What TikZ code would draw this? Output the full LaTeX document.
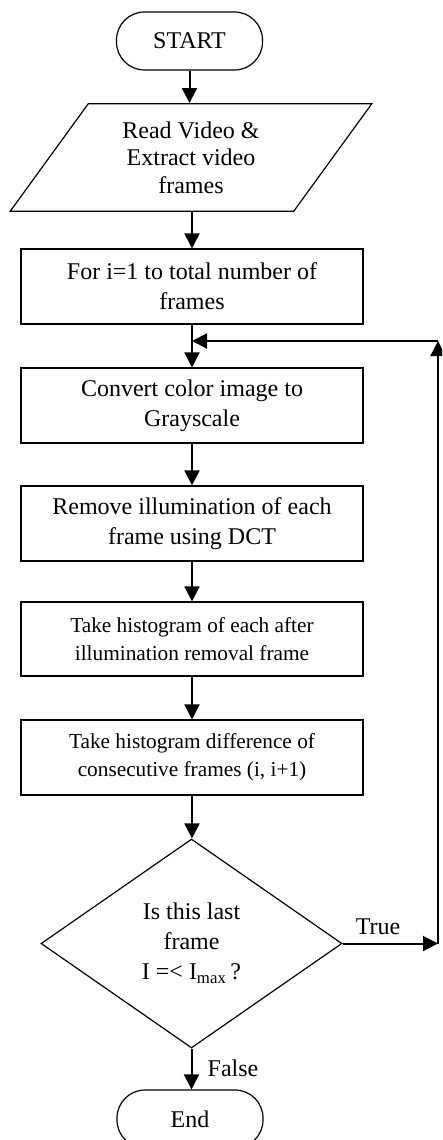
\documentclass[tikz,border=0pt]{standalone}
\usepackage{fontspec}
\setmainfont{Liberation Serif}
\usetikzlibrary{arrows.meta,shapes.geometric}
\begin{document}
\begin{tikzpicture}[x=1pt,y=-1pt,
  box/.style={draw,line width=1.2pt,rectangle,minimum width=342pt,minimum height=75pt,inner sep=0pt,align=center,font=\fontsize{24}{30}\selectfont},
  sbox/.style={box,font=\fontsize{21.3}{28}\selectfont},
  term/.style={draw,line width=1.2pt,rectangle,rounded corners=28pt,minimum width=146pt,minimum height=58pt,inner sep=0pt,font=\fontsize{24}{28}\selectfont},
  flow/.style={line width=2pt,-{Triangle[width=15pt,length=15pt]}},
  lbl/.style={font=\fontsize{24}{28}\selectfont,inner sep=0pt}
]
\useasboundingbox (0,0) rectangle (442,1140);
\clip (0,0) rectangle (442,1140);
\node[term] (start) at (189.5,41) {START};
\node[draw,line width=1.2pt,trapezium,trapezium left angle=54,trapezium right angle=126,minimum width=362pt,minimum height=101pt,inner sep=0pt,align=center,font=\fontsize{24}{27.5}\selectfont] (read) at (191,157.5) {Read Video \&\\Extract video\\frames};
\node[box] (b1) at (192,286.5) {For i=1 to total number of\\frames};
\node[box] (b2) at (192,405.5) {Convert color image to\\Grayscale};
\node[box] (b3) at (192,523.5) {Remove illumination of each\\frame using DCT};
\node[sbox,minimum height=74pt] (b4) at (192,639) {Take histogram of each after\\illumination removal frame};
\node[sbox] (b5) at (192,757.5) {Take histogram difference of\\consecutive frames (i, i+1)};
\node[draw,line width=1.2pt,diamond,shape aspect=1.44,minimum width=301pt,minimum height=209pt,inner sep=0pt,align=center,font=\fontsize{24}{30}\selectfont] (dia) at (191.5,943.5) {Is this last\\frame\\I =< I\textsubscript{max}\,?};
\node[term] (end) at (190,1119) {End};
\coordinate (r1) at (438,943.5);
\coordinate (r2) at (438,341);
\coordinate (m) at (192,341);
\draw[flow] (start.south) -- (start.south |- read.north);
\draw[flow] (read.south -| b1.north) -- (b1.north);
\draw[flow] (b1.south) -- (b2.north);
\draw[flow] (b2.south) -- (b3.north);
\draw[flow] (b3.south) -- (b4.north);
\draw[flow] (b4.south) -- (b5.north);
\draw[flow] (b5.south) -- (b5.south |- dia.north);
\draw[flow] (dia.south) -- (dia.south |- end.north);
\draw[flow] (dia.east) -- (r1);
\draw[flow] (r1) -- (r2);
\draw[flow] (r2) -- (m);
\node[lbl] (true) at (378,927) {True};
\node[lbl] (false) at (233,1068) {False};
\end{tikzpicture}
\end{document}
